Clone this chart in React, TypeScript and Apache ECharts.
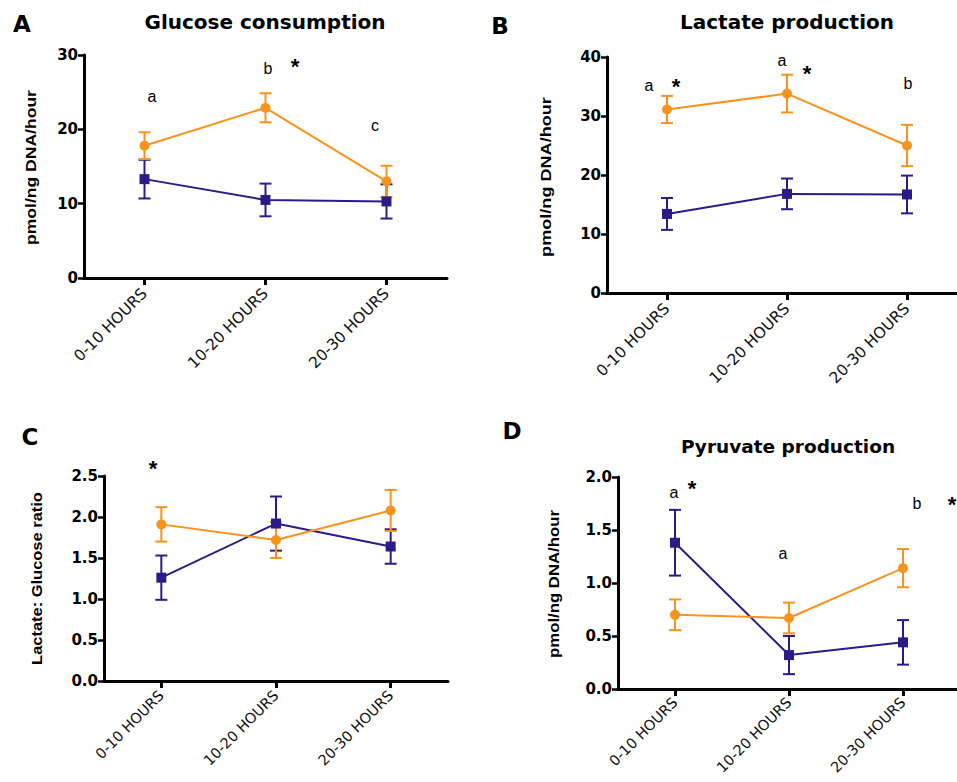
import React, { useEffect, useRef } from 'react';
import * as echarts from 'echarts';

// ---------- data ----------
const CATEGORIES = ['0-10 HOURS', '10-20 HOURS', '20-30 HOURS'];

const GLUCOSE_ORANGE = [17.8, 22.9, 13.0];
const GLUCOSE_ORANGE_ERR = [1.8, 1.95, 2.1];
const GLUCOSE_PURPLE = [13.3, 10.5, 10.3];
const GLUCOSE_PURPLE_ERR = [2.6, 2.2, 2.3];

const LACTATE_ORANGE = [31.1, 33.8, 25.0];
const LACTATE_ORANGE_ERR = [2.3, 3.2, 3.5];
const LACTATE_PURPLE = [13.4, 16.8, 16.7];
const LACTATE_PURPLE_ERR = [2.7, 2.6, 3.2];

const RATIO_ORANGE = [1.91, 1.72, 2.08];
const RATIO_ORANGE_ERR = [0.21, 0.22, 0.25];
const RATIO_PURPLE = [1.26, 1.92, 1.64];
const RATIO_PURPLE_ERR = [0.27, 0.33, 0.21];

const PYRUVATE_ORANGE = [0.70, 0.67, 1.14];
const PYRUVATE_ORANGE_ERR = [0.145, 0.145, 0.18];
const PYRUVATE_PURPLE = [1.38, 0.32, 0.44];
const PYRUVATE_PURPLE_ERR = [0.31, 0.18, 0.21];

// y-axis tick ranges (min 0)
const Y_MAX = [30, 40, 2.5, 2.0];
const Y_STEP = [10, 10, 0.5, 0.5];
const Y_DECIMALS = [0, 0, 1, 1];

const PANEL_LETTERS = ['A', 'B', 'C', 'D'];
const PANEL_TITLES = ['Glucose consumption', 'Lactate production', '', 'Pyruvate production'];
const Y_NAMES = ['pmol/ng DNA/hour', 'pmol/ng DNA/hour', 'Lactate: Glucose ratio', 'pmol/ng DNA/hour'];

// ---------- styles / layout ----------
const ORANGE = '#F7941E';
const PURPLE = '#2E1A87';

const GRIDS = [
  { left: 84, top: 55, width: 363, height: 223 },
  { left: 607, top: 57, width: 360, height: 236 },
  { left: 104, top: 476, width: 344, height: 205 },
  { left: 618, top: 477, width: 342, height: 212 },
];

const X_LABEL_SIZE = [15.5, 15.5, 14.5, 14.5];
const X_LABEL_MARGIN = [13, 13, 12, 11];
const LETTER_POS = [[22, 24], [500, 26], [30, 437], [512, 431]];
const TITLE_POS = [[265, 22], [787, 22], [0, 0], [788, 446]];
const TITLE_SIZE = [20, 20, 20, 18.5];
const YNAME_POS = [[31, 167.5, 155], [546, 177, 160], [37, 578.5, 173], [554.5, 584, 148]];

const ANNOTATIONS = [
  { t: 'a', x: 152, y: 96 },
  { t: 'b', x: 268, y: 68 },
  { t: '*', x: 295, y: 66 },
  { t: 'c', x: 375, y: 125 },
  { t: 'a', x: 649, y: 85 },
  { t: '*', x: 676, y: 86 },
  { t: 'a', x: 782, y: 60 },
  { t: '*', x: 807, y: 73 },
  { t: 'b', x: 908, y: 83 },
  { t: '*', x: 153, y: 468 },
  { t: 'a', x: 674, y: 492 },
  { t: '*', x: 692, y: 488 },
  { t: 'a', x: 783, y: 553 },
  { t: 'b', x: 917, y: 503 },
  { t: '*', x: 952, y: 504 },
];

const PANELS = [
  { o: GLUCOSE_ORANGE, oe: GLUCOSE_ORANGE_ERR, p: GLUCOSE_PURPLE, pe: GLUCOSE_PURPLE_ERR },
  { o: LACTATE_ORANGE, oe: LACTATE_ORANGE_ERR, p: LACTATE_PURPLE, pe: LACTATE_PURPLE_ERR },
  { o: RATIO_ORANGE, oe: RATIO_ORANGE_ERR, p: RATIO_PURPLE, pe: RATIO_PURPLE_ERR },
  { o: PYRUVATE_ORANGE, oe: PYRUVATE_ORANGE_ERR, p: PYRUVATE_PURPLE, pe: PYRUVATE_PURPLE_ERR },
];

function measure(text: string, font: string): number {
  const ctx = document.createElement('canvas').getContext('2d');
  if (!ctx) return text.length * 7;
  ctx.font = font;
  return ctx.measureText(text).width;
}

function errorSeries(idx: number, means: number[], errs: number[], color: string) {
  return {
    type: 'custom',
    xAxisIndex: idx,
    yAxisIndex: idx,
    silent: true,
    clip: false,
    z: 2,
    encode: { x: 0, y: [1, 2] },
    data: means.map((m, i) => [i, m - errs[i], m + errs[i]]),
    renderItem: (params: any, api: any) => {
      const lo = api.coord([api.value(0), api.value(1)]);
      const hi = api.coord([api.value(0), api.value(2)]);
      const hw = 6;
      const style = { stroke: color, lineWidth: 2 };
      return {
        type: 'group',
        children: [
          { type: 'line', shape: { x1: lo[0], y1: lo[1], x2: hi[0], y2: hi[1] }, style },
          { type: 'line', shape: { x1: hi[0] - hw, y1: hi[1], x2: hi[0] + hw, y2: hi[1] }, style },
          { type: 'line', shape: { x1: lo[0] - hw, y1: lo[1], x2: lo[0] + hw, y2: lo[1] }, style },
        ],
      };
    },
  };
}

function buildOption() {
  const grid: any[] = [];
  const xAxis: any[] = [];
  const yAxis: any[] = [];
  const series: any[] = [];
  const graphic: any[] = [];

  PANELS.forEach((pn, i) => {
    grid.push({ ...GRIDS[i], outerBoundsMode: 'none', containLabel: false });
    xAxis.push({
      type: 'category',
      gridIndex: i,
      data: CATEGORIES,
      boundaryGap: true,
      axisLine: { show: true, lineStyle: { color: '#000', width: 3 } },
      axisTick: { show: true, alignWithLabel: true, length: 7, lineStyle: { color: '#000', width: 3 } },
      axisLabel: {
        interval: 0,
        rotate: 45,
        margin: X_LABEL_MARGIN[i],
        color: '#111',
        fontSize: X_LABEL_SIZE[i],
        fontWeight: 'normal',
        fontFamily: 'DejaVu Sans',
      },
      splitLine: { show: false },
    });
    yAxis.push({
      type: 'value',
      gridIndex: i,
      min: 0,
      max: Y_MAX[i],
      interval: Y_STEP[i],
      axisLine: { show: true, lineStyle: { color: '#000', width: 3 } },
      axisTick: { show: true, length: 6, lineStyle: { color: '#000', width: 2.5 } },
      axisLabel: {
        margin: 6,
        color: '#000',
        fontSize: 15,
        fontWeight: 'bold',
        fontFamily: 'DejaVu Sans',
        formatter: (v: number) => v.toFixed(Y_DECIMALS[i]),
      },
      splitLine: { show: false },
    });
    series.push(errorSeries(i, pn.p, pn.pe, PURPLE));
    series.push(errorSeries(i, pn.o, pn.oe, ORANGE));
    series.push({
      type: 'line',
      xAxisIndex: i,
      yAxisIndex: i,
      data: pn.p,
      symbol: 'rect',
      symbolSize: 10,
      lineStyle: { color: PURPLE, width: 2 },
      itemStyle: { color: PURPLE },
      z: 3,
      silent: true,
    });
    series.push({
      type: 'line',
      xAxisIndex: i,
      yAxisIndex: i,
      data: pn.o,
      symbol: 'circle',
      symbolSize: 10,
      lineStyle: { color: ORANGE, width: 2 },
      itemStyle: { color: ORANGE },
      z: 3,
      silent: true,
    });

    graphic.push({
      type: 'text',
      x: LETTER_POS[i][0],
      y: LETTER_POS[i][1],
      style: {
        text: PANEL_LETTERS[i],
        fontSize: 23,
        fontWeight: 'bold',
        fontFamily: 'DejaVu Sans',
        fill: '#000',
        align: 'center',
        verticalAlign: 'middle',
      },
    });
    if (PANEL_TITLES[i]) {
      graphic.push({
        type: 'text',
        x: TITLE_POS[i][0],
        y: TITLE_POS[i][1],
        style: {
          text: PANEL_TITLES[i],
          fontSize: TITLE_SIZE[i],
          fontWeight: 'bold',
          fontFamily: 'DejaVu Sans',
          fill: '#000',
          align: 'center',
          verticalAlign: 'middle',
        },
      });
    }
    const yFont = 'bold 14px "Liberation Sans"';
    const w = measure(Y_NAMES[i], yFont);
    graphic.push({
      type: 'text',
      x: YNAME_POS[i][0],
      y: YNAME_POS[i][1],
      rotation: Math.PI / 2,
      scaleX: YNAME_POS[i][2] / w,
      style: {
        text: Y_NAMES[i],
        fontSize: 14,
        fontWeight: 'bold',
        fontFamily: 'Liberation Sans',
        fill: '#000',
        align: 'center',
        verticalAlign: 'middle',
      },
    });
  });

  ANNOTATIONS.forEach((a) => {
    const star = a.t === '*';
    graphic.push({
      type: 'text',
      x: a.x,
      y: a.y,
      style: {
        text: a.t,
        fontSize: star ? 22 : 16,
        fontWeight: star ? 'bold' : 'normal',
        fontFamily: 'Liberation Sans',
        fill: '#000',
        align: 'center',
        verticalAlign: 'middle',
      },
    });
  });

  return {
    animation: false,
    backgroundColor: '#fff',
    grid,
    xAxis,
    yAxis,
    series,
    graphic,
  };
}

export default function App() {
  const ref = useRef<HTMLDivElement>(null);
  useEffect(() => {
    if (!ref.current) return;
    const chart = echarts.init(ref.current, null, { renderer: 'svg' });
    chart.setOption(buildOption() as any);
    return () => chart.dispose();
  }, []);
  return (
    <div
      ref={ref}
      style={{ position: 'absolute', left: 0, top: 0, width: 957, height: 782, background: '#fff' }}
    />
  );
}
